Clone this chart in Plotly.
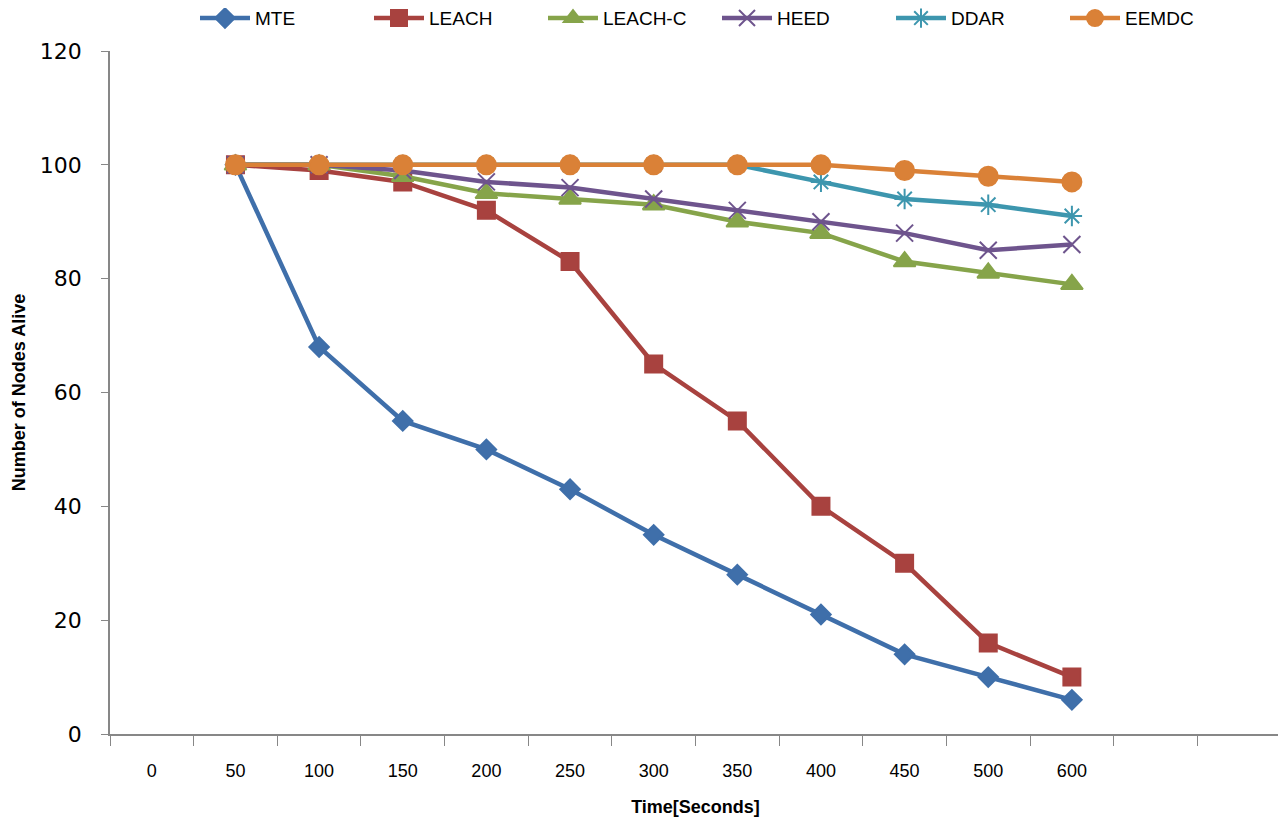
import plotly.graph_objects as go

categories = ["0", "50", "100", "150", "200", "250", "300", "350", "400", "450", "500", "600"]
data_categories = ["50", "100", "150", "200", "250", "300", "350", "400", "450", "500", "600"]

mte = [100, 68, 55, 50, 43, 35, 28, 21, 14, 10, 6]
leach = [100, 99, 97, 92, 83, 65, 55, 40, 30, 16, 10]
leach_c = [100, 100, 98, 95, 94, 93, 90, 88, 83, 81, 79]
heed = [100, 100, 99, 97, 96, 94, 92, 90, 88, 85, 86]
ddar = [100, 100, 100, 100, 100, 100, 100, 97, 94, 93, 91]
eemdc = [100, 100, 100, 100, 100, 100, 100, 100, 99, 98, 97]

n_slots = 14  # 12 labelled categories + 2 empty ones

series = [
    ("MTE", mte, "#3F6FAA", "diamond", 15),
    ("LEACH", leach, "#A8423F", "square", 17),
    ("LEACH-C", leach_c, "#86A44A", "triangle-up", 19),
    ("HEED", heed, "#6E548D", "x-thin-open", 17),
    ("DDAR", ddar, "#3D96AE", "asterisk-open", 17),
    ("EEMDC", eemdc, "#DA8137", "circle", 19),
]

xpos = [categories.index(c) for c in data_categories]
FONT = "Liberation Sans, Arial, sans-serif"

fig = go.Figure()
for name, vals, color, sym, size in series:
    fig.add_trace(go.Scatter(
        x=xpos, y=vals, name=name, mode="lines+markers",
        line=dict(color=color, width=4.5),
        marker=dict(symbol=sym, size=size, color=color,
                    line=dict(color=color, width=2)),
    ))

fig.update_layout(
    width=1286, height=822,
    paper_bgcolor="white", plot_bgcolor="white",
    margin=dict(l=102, r=13, t=43, b=96, autoexpand=False),
    showlegend=True,
    legend=dict(orientation="h", x=85 / 1171, xanchor="left", y=1.048, yanchor="middle",
                font=dict(family=FONT, size=19, color="black"),
                itemwidth=50, entrywidth=109, traceorder="normal"),
    xaxis=dict(
        range=[-0.5, n_slots - 0.5],
        tickmode="array", tickvals=list(range(len(categories))), ticktext=categories,
        ticks="", showgrid=False, zeroline=False,
        showline=True, linecolor="#878787", linewidth=1.5,
        ticklabelstandoff=20,
        tickfont=dict(family=FONT, size=18, color="black"),
        minor=dict(tickmode="array", tickvals=[i - 0.5 for i in range(n_slots + 1)],
                   ticks="outside", ticklen=10, tickcolor="#878787", tickwidth=1),
        title=dict(text="<b>Time[Seconds]</b>", standoff=20,
                   font=dict(family=FONT, size=18, color="black")),
    ),
    yaxis=dict(
        range=[0, 120], tickmode="array", tickvals=[0, 20, 40, 60, 80, 100, 120],
        ticks="outside", ticklen=7, tickcolor="#878787",
        showgrid=False, zeroline=False,
        showline=True, linecolor="#878787", linewidth=1.5,
        ticklabelstandoff=15,
        tickfont=dict(family="DejaVu Sans, Verdana, sans-serif", size=22, color="black"),
        title=dict(text="<b>Number of Nodes Alive</b>", standoff=10,
                   font=dict(family=FONT, size=18, color="black")),
    ),
)

fig.write_html("out.html")
